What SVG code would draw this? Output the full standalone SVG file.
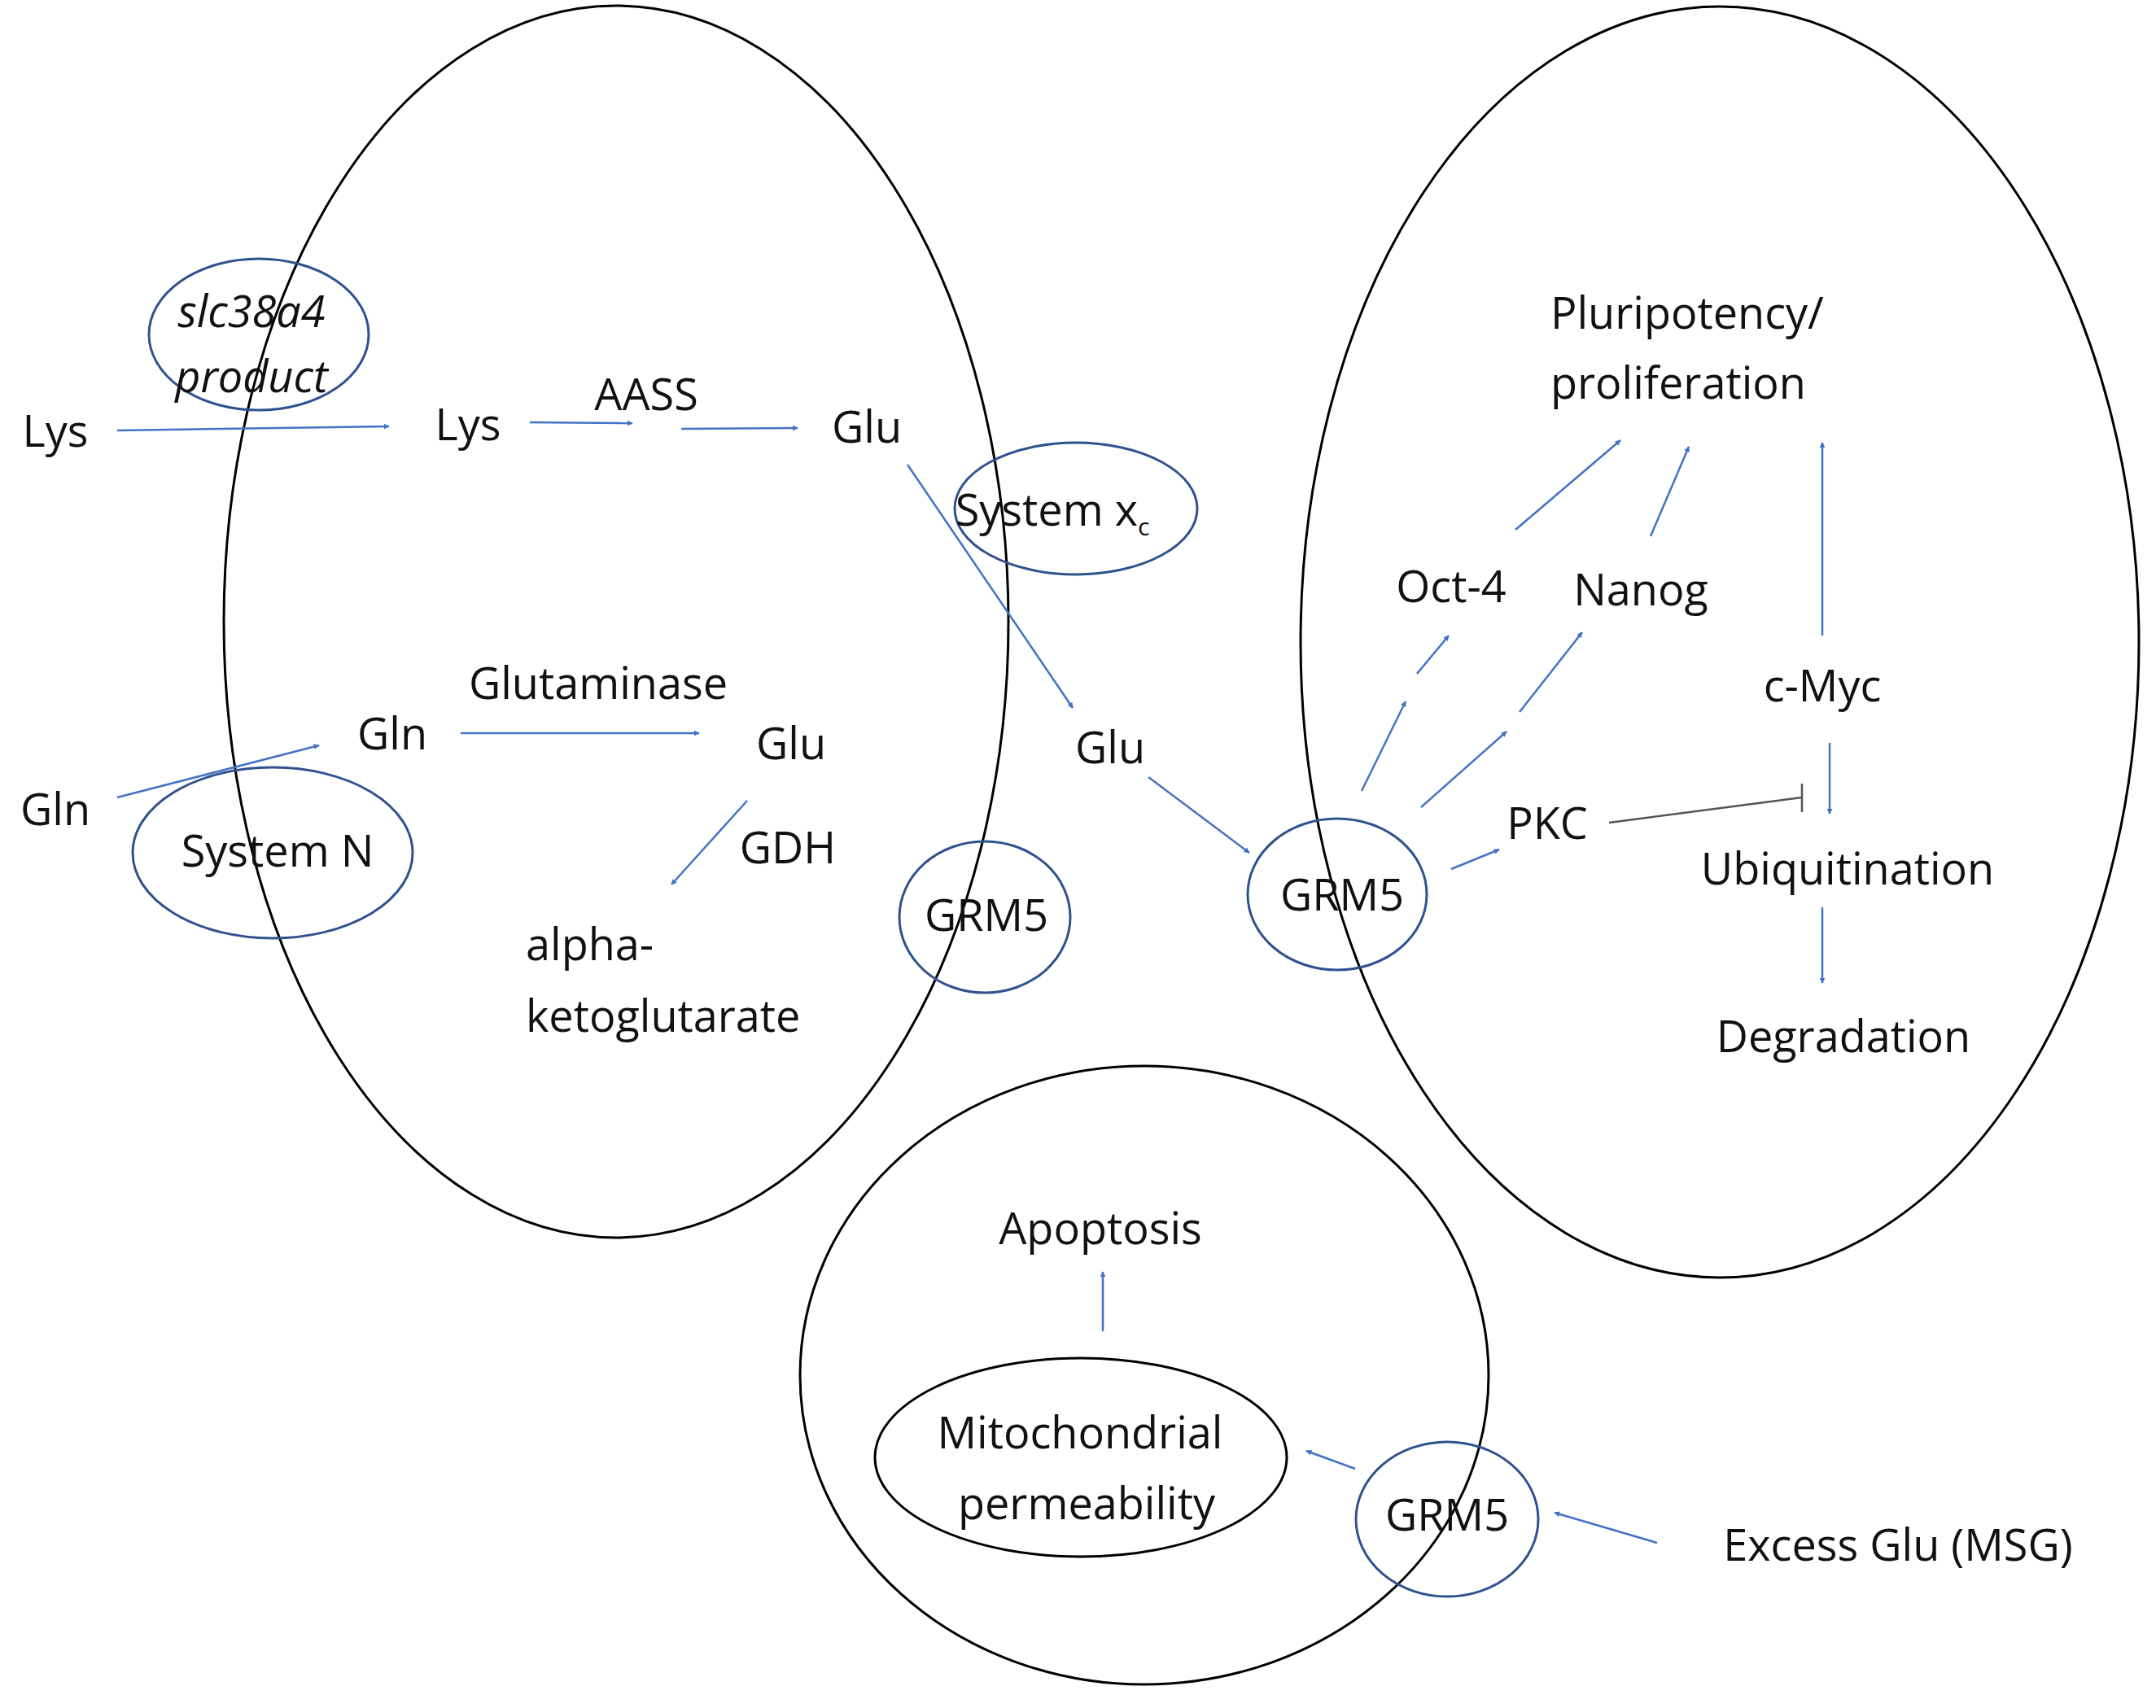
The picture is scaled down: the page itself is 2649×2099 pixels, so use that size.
<svg xmlns="http://www.w3.org/2000/svg" width="2649" height="2099" viewBox="0 0 2649 2099">
<defs><marker id="a" viewBox="0 0 10 10" refX="9" refY="5" markerWidth="7" markerHeight="7" orient="auto" markerUnits="userSpaceOnUse"><path d="M0,0L10,5L0,10z" fill="#4472c4"/></marker>
<style>
.t{font-family:"Open Sans","Liberation Sans",sans-serif;font-size:54px;fill:#111;text-anchor:middle}
.k{fill:none;stroke:#000;stroke-width:3}
.b{fill:none;stroke:#2f528f;stroke-width:3}
.c line{stroke:#4472c4;stroke-width:2.5;marker-end:url(#a)}
</style></defs>
<rect width="2649" height="2099" fill="#fff"/>
<g id="cell-left"><ellipse class="k" cx="757" cy="764" rx="482" ry="757"/></g>
<g id="cell-right"><ellipse class="k" cx="2113" cy="789" rx="515" ry="781"/></g>
<g id="cell-bottom"><ellipse class="k" cx="1406" cy="1690" rx="423" ry="380"/></g>
<g id="slc"><ellipse class="b" cx="318" cy="411" rx="135" ry="93"/><text class="t" x="309" y="402" font-style="italic">slc38a4</text><text class="t" x="309" y="482" font-style="italic">product</text></g>
<g id="sysx"><ellipse class="b" cx="1322" cy="625" rx="149" ry="81"/><text class="t" x="1293" y="646">System x<tspan font-size="30" dy="12">c</tspan></text></g>
<g id="sysn"><ellipse class="b" cx="335" cy="1048" rx="172" ry="105"/><text class="t" x="341" y="1065">System N</text></g>
<g id="grm5a"><ellipse class="b" cx="1210" cy="1127" rx="105" ry="93"/><text class="t" x="1212" y="1144">GRM5</text></g>
<g id="grm5b"><ellipse class="b" cx="1643" cy="1099" rx="110" ry="93"/><text class="t" x="1649" y="1119">GRM5</text></g>
<g id="grm5c"><ellipse class="b" cx="1778" cy="1867" rx="112" ry="95"/><text class="t" x="1778" y="1881">GRM5</text></g>
<g id="mito"><ellipse class="k" cx="1328" cy="1791" rx="253" ry="122"/><text class="t" x="1327" y="1780">Mitochondrial</text><text class="t" x="1335" y="1867">permeability</text></g>
<g id="labels">
<text class="t" x="68" y="549">Lys</text>
<text class="t" x="575" y="541">Lys</text>
<text class="t" x="794" y="504">AASS</text>
<text class="t" x="1065" y="544">Glu</text>
<text class="t" x="735" y="859">Glutaminase</text>
<text class="t" x="482" y="921">Gln</text>
<text class="t" x="972" y="933">Glu</text>
<text class="t" x="68" y="1014">Gln</text>
<text class="t" x="968" y="1061">GDH</text>
<text class="t" x="646" y="1180" text-anchor="start" style="text-anchor:start">alpha-</text>
<text class="t" x="646" y="1268" style="text-anchor:start">ketoglutarate</text>
<text class="t" x="1364" y="938">Glu</text>
<text class="t" x="1905" y="404" style="text-anchor:start">Pluripotency/</text>
<text class="t" x="1905" y="490" style="text-anchor:start">proliferation</text>
<text class="t" x="1783" y="740">Oct-4</text>
<text class="t" x="2016" y="744">Nanog</text>
<text class="t" x="2239" y="862">c-Myc</text>
<text class="t" x="1901" y="1031">PKC</text>
<text class="t" x="2270" y="1087">Ubiquitination</text>
<text class="t" x="2265" y="1293">Degradation</text>
<text class="t" x="1352" y="1529">Apoptosis</text>
<text class="t" x="2332" y="1918">Excess Glu (MSG)</text>
</g>
<g id="connectors" class="c">
<line x1="144" y1="529" x2="478" y2="524"/>
<line x1="651" y1="519" x2="777" y2="520"/>
<line x1="837" y1="527" x2="980" y2="526"/>
<line x1="1115" y1="571" x2="1318" y2="870"/>
<line x1="144" y1="980" x2="392" y2="916"/>
<line x1="566" y1="901" x2="859" y2="901"/>
<line x1="918" y1="984" x2="825" y2="1087"/>
<line x1="1411" y1="955" x2="1535" y2="1048"/>
<line x1="1673" y1="972" x2="1727" y2="862"/>
<line x1="1741" y1="828" x2="1780" y2="781"/>
<line x1="1746" y1="992" x2="1851" y2="899"/>
<line x1="1867" y1="875" x2="1944" y2="777"/>
<line x1="1783" y1="1068" x2="1842" y2="1044"/>
<line x1="1862" y1="651" x2="1991" y2="541"/>
<line x1="2028" y1="659" x2="2075" y2="549"/>
<line x1="2239" y1="781" x2="2239" y2="544"/>
<line x1="2248" y1="913" x2="2248" y2="1000"/>
<line x1="2239" y1="1115" x2="2239" y2="1208"/>
<line x1="1355" y1="1636" x2="1355" y2="1563"/>
<line x1="1665" y1="1805" x2="1605" y2="1783"/>
<line x1="2036" y1="1896" x2="1910" y2="1859"/>
<path d="M1977,1011L2214,980M2214,963V998" stroke="#555" stroke-width="2.5" fill="none"/>
</g>
</svg>
